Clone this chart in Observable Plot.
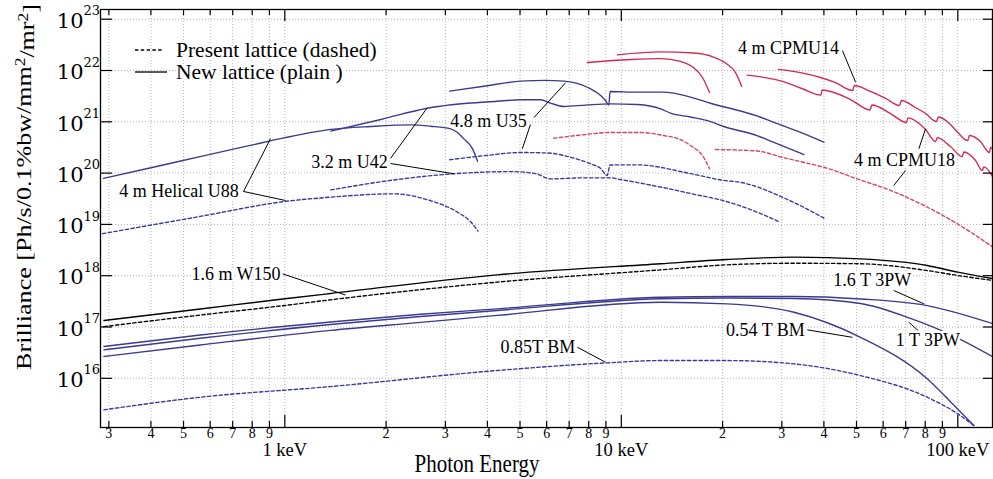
<!DOCTYPE html>
<html><head><meta charset="utf-8">
<script src="https://cdn.jsdelivr.net/npm/d3@7"></script>
<script src="https://cdn.jsdelivr.net/npm/@observablehq/plot@0.6"></script>
<style>
html,body{margin:0;padding:0;background:#fff;overflow:hidden;}
#chart{position:relative;width:993px;height:479px;}
</style></head><body><div id="chart"></div>
<script>
// ---------------- axes ----------------
const xDomain = [0.2833, 126.8];
const yDomain = [1.099e15, 1.546e23];
const xMinorTicks = [0.3,0.4,0.5,0.6,0.7,0.8,0.9,2,3,4,5,6,7,8,9,20,30,40,50,60,70,80,90];
const xMinorLabels = ["3","4","5","6","7","8","9","2","3","4","5","6","7","8","9","2","3","4","5","6","7","8","9"];
const xMajorTicks = [1,10,100];
const xMajorLabels = ["1 keV","10 keV","100 keV"];
const yDecades = [1e16,1e17,1e18,1e19,1e20,1e21,1e22,1e23];
const yBase = "10";
const yExponents = ["16","17","18","19","20","21","22","23"];
const xTitle = "Photon Energy";
const legendLabels = ["Present lattice (dashed)", "New lattice (plain )"];

// ---------------- series (photon energy keV, brilliance) ----------------
const u88NewE = [0.289,0.40,0.56,0.79,1.0,1.37,1.8,2.36,2.71,3.11,3.26,3.40,3.61,3.74];
const u88NewB = [7.9e19,1.27e20,2.1e20,3.47e20,4.9e20,7.1e20,8.1e20,8.7e20,8.2e20,7.3e20,6.2e20,4.7e20,3.0e20,1.7e20];
const u88OldE = [0.287,0.56,1.0,1.37,2.1,2.71,3.26,3.56,3.75];
const u88OldB = [6.6e18,1.43e19,2.8e19,3.4e19,3.95e19,2.9e19,1.73e19,1.14e19,7.4e18];

const u42NewE = [1.37,1.93,2.65,4.28,5.02,5.75,6.16,6.75,7.83,9.29,11.15,13.09,14.0,16.06,18.41,20.16,25.3,27.8,34.9];
const u42NewB = [6.6e20,1.11e21,1.84e21,2.52e21,2.69e21,2.69e21,2.32e21,1.99e21,2.12e21,2.24e21,2.17e21,1.79e21,1.47e21,1.24e21,1.01e21,8.1e20,5.4e20,4.2e20,2.3e20];
const u42OldE = [1.37,2.06,3.17,4.69,5.56,6.16,7.72,9.29,9.95,13.35,16.06,20.1,24.2,29.7];
const u42OldB = [4.7e19,7.2e19,9.7e19,1.07e20,9.8e19,7.7e19,8.1e19,8.1e19,7.5e19,5.2e19,4.0e19,2.9e19,1.95e19,1.10e19];

const u35NewE = [3.09,3.95,5.02,5.95,6.75,7.92,8.68,8.98,9.18,9.26,11.15,13.38,15.0,18.41,25.3,27.8,34.1,40.0];
const u35NewB = [3.95e21,4.99e21,6.2e21,6.4e21,6.2e21,4.72e21,3.26e21,2.6e21,2.12e21,3.9e21,3.78e21,3.78e21,3.4e21,2.3e21,1.30e21,1.03e21,6.2e20,4.0e20];
const u35OldE = [3.09,3.95,5.02,6.03,7.06,8.10,8.68,9.08,9.26,11.15,16.06,20.16,22.6,30.4,40.0];
const u35OldB = [1.82e20,2.2e20,2.52e20,2.47e20,2.04e20,1.52e20,1.23e20,9.0e19,1.44e20,1.45e20,9.8e19,7.2e19,6.6e19,3.3e19,1.33e19];

const cpmu18LowE = [7.92,10.65,13.09,15.0,16.39,17.43,18.29];
const cpmu18LowB = [1.43e22,1.64e22,1.71e22,1.50e22,1.14e22,7.3e21,3.72e21];
const cpmu14LowE = [9.74,13.09,16.39,18.79,20.4,21.85,22.8];
const cpmu14LowB = [2.02e22,2.30e22,2.19e22,1.83e22,1.40e22,9.1e21,4.9e21];
const cpmu18HighE = [23.66,29.99,34.4,39.2,39.5,48.0,54.8,55.6,63.1,70.4,71.1,80.2,85.9,86.9,95.1,103.1,104.2,112.9,118.2,119.5,127.7];
const cpmu18HighB = [8.1e21,6.2e21,4.46e21,3.33e21,4.17e21,2.72e21,1.70e21,2.13e21,1.45e21,9.7e20,1.19e21,7.1e20,4.13e20,4.9e20,3.3e20,2.1e20,2.58e20,1.76e20,1.12e20,1.32e20,7.9e19];
const cpmu14HighE = [29.3,34.1,39.1,43.3,48.7,49.3,55.0,61.0,67.1,68.0,74.8,80.2,86.4,87.6,95.1,100,106.9,108.3,116.8,124.2,125.1,127.7];
const cpmu14HighB = [1.05e22,9.1e21,7.3e21,5.8e21,4.07e21,5.1e21,3.9e21,2.85e21,2.08e21,2.6e21,1.90e21,1.45e21,1.01e21,1.24e21,8.9e20,6.2e20,4.3e20,5.4e20,4.13e20,2.52e20,3.15e20,2.88e20];
const cpmuOldLowE = [6.29,7.56,9.29,11.33,13.35,15.0,16.06,17.55,18.29];
const cpmuOldLowB = [4.79e20,5.5e20,6.2e20,6.2e20,5.4e20,4.5e20,3.45e20,2.04e20,1.21e20];
const cpmuOldHighE = [19.05,25.3,30.0,35.7,40.0,50.2,63.1,79.3,99.6,127.7];
const cpmuOldHighB = [2.88e20,2.7e20,2.04e20,1.56e20,1.30e20,7.7e19,4.6e19,2.34e19,1.03e19,3.55e18];

const w150E = [0.29,0.561,1.0,1.367,4.28,13.09,20.6,32.6,51.4,81.1,100,127.7];
const w150NewB = [1.34e17,2.24e17,3.55e17,4.5e17,1.04e18,1.71e18,2.07e18,2.30e18,2.13e18,1.58e18,1.17e18,8.7e17];
const w150OldB = [1.02e17,1.71e17,2.63e17,3.39e17,7.5e17,1.30e18,1.63e18,1.75e18,1.71e18,1.26e18,1.01e18,8.05e17];

const pw16E = [0.29,0.561,1.367,2.53,4.28,13.09,20.6,32.6,51.4,81.1,127.7];
const pw16B = [4.17e16,6.99e16,1.25e17,1.77e17,2.26e17,3.81e17,3.93e17,3.93e17,3.52e17,2.62e17,1.15e17];
const pw1E = [0.29,0.561,1.367,2.53,4.28,13.09,20.6,32.6,51.4,72.3,95.1,127.7];
const pw1B = [3.59e16,6.03e16,1.12e17,1.60e17,2.10e17,3.55e17,3.68e17,3.6e17,2.87e17,1.47e17,7.1e16,2.58e16];
const bm054E = [0.29,0.561,1.367,2.53,4.28,13.09,20.6,32.6,51.4,81.1,95.1,111.6];
const bm054B = [2.66e16,4.46e16,8.6e16,1.23e17,1.68e17,3.04e17,2.83e17,1.94e17,6.3e16,9.8e15,3.5e15,1.20e15];
const bm085E = [0.29,0.561,1.367,4.28,9.08,13.09,20.6,32.6,51.4,81.1,100,111.6];
const bm085B = [2.43e15,4.28e15,6.9e15,1.42e16,2.0e16,2.22e16,2.22e16,1.91e16,1.13e16,4.28e15,2.03e15,1.20e15];

// ---------------- annotations ----------------
const labelText = ["4 m Helical U88","3.2 m U42","4.8 m U35","4 m CPMU14","4 m CPMU18","1.6 m W150","1.6 T 3PW","1 T 3PW","0.54 T BM","0.85T BM"];
const labelE = [0.485,1.557,4.03,31.4,69.4,0.716,55.7,81.5,26.8,5.65];
const labelB = [4.38e19,1.61e20,1.01e21,2.72e22,1.76e20,1.09e18,8.3e17,5.45e16,8.8e16,4.04e16];
const leaderE1 = [0.754,0.754,2.061,2.061,5.50,5.37,45.4,76.6,69.9,0.984,64.5,71.5,35.7,7.40];
const leaderB1 = [4.38e19,4.38e19,1.93e20,1.54e20,1.21e21,8.85e20,2.45e22,2.98e20,1.12e20,1.09e18,5.15e17,1.24e17,8.8e16,4.04e16];
const leaderE2 = [0.907,1.005,2.65,3.178,6.83,5.08,49.7,80.2,64.5,1.515,79.3,76.6,48.6,8.97];
const leaderB2 = [4.72e20,2.92e19,1.87e21,9.7e19,5.76e21,2.98e20,5.9e21,7.3e20,5.73e19,4.2e17,2.83e17,8.3e16,6.3e16,2.06e16];

// ---------------- build tables ----------------
const series = [
  {id:"u88n", fam:"blue", lat:"new", E:u88NewE, B:u88NewB},
  {id:"u88o", fam:"blue", lat:"old", E:u88OldE, B:u88OldB},
  {id:"u42n", fam:"blue", lat:"new", E:u42NewE, B:u42NewB},
  {id:"u42o", fam:"blue", lat:"old", E:u42OldE, B:u42OldB},
  {id:"u35n", fam:"blue", lat:"new", E:u35NewE, B:u35NewB},
  {id:"u35o", fam:"blue", lat:"old", E:u35OldE, B:u35OldB},
  {id:"c18l", fam:"red", lat:"new", E:cpmu18LowE, B:cpmu18LowB},
  {id:"c14l", fam:"red", lat:"new", E:cpmu14LowE, B:cpmu14LowB},
  {id:"c18h", fam:"red", lat:"new", E:cpmu18HighE, B:cpmu18HighB},
  {id:"c14h", fam:"red", lat:"new", E:cpmu14HighE, B:cpmu14HighB},
  {id:"col", fam:"red", lat:"old", E:cpmuOldLowE, B:cpmuOldLowB},
  {id:"coh", fam:"red", lat:"old", E:cpmuOldHighE, B:cpmuOldHighB},
  {id:"w150n", fam:"black", lat:"new", E:w150E, B:w150NewB},
  {id:"w150o", fam:"black", lat:"old", E:w150E, B:w150OldB},
  {id:"pw16", fam:"blue", lat:"new", E:pw16E, B:pw16B},
  {id:"pw1", fam:"blue", lat:"new", E:pw1E, B:pw1B},
  {id:"bm054", fam:"blue", lat:"new", E:bm054E, B:bm054B},
  {id:"bm085", fam:"blue", lat:"old", E:bm085E, B:bm085B}
];
const rows = series.flatMap(s => s.E.map((e, i) => ({id:s.id, fam:s.fam, lat:s.lat, E:e, B:s.B[i]})));
const colors = {blue:"#3b3a8f", blueDash:"#3636a6", red:"#d2294d", redDash:"#d8405f", black:"#000"};
const dash = "3.4,2.4";

const labels = labelText.map((t, i) => ({t, E:labelE[i], B:labelB[i]}));
const leaders = leaderE1.map((e, i) => ({x1:e, y1:leaderB1[i], x2:leaderE2[i], y2:leaderB2[i]}));
const xMinor = xMinorTicks.map((v, i) => ({v, t:xMinorLabels[i]}));
const xMajor = xMajorTicks.map((v, i) => ({v, t:xMajorLabels[i]}));
const yRows = yDecades.map((v, i) => ({v, base:yBase, exp:yExponents[i]}));
const xGrid = [...xMinorTicks, ...xMajorTicks];

const W = 993, H = 479, mL = 100, mR = 1, mT = 9, mB = 52;
const pw = W - mL - mR, ph = H - mT - mB;
const sel = (fam, lat) => rows.filter(d => d.fam === fam && d.lat === lat);
const lineOpts = (stroke, dashed) => ({x:"E", y:"B", z:"id", stroke, strokeWidth:1.35, clip:true,
  curve:"monotone-x", strokeDasharray: dashed ? dash : null});

const plot = Plot.plot({
  width: W, height: H,
  marginLeft: mL, marginRight: mR, marginTop: mT, marginBottom: mB,
  x: {type:"log", domain:xDomain, axis:null},
  y: {type:"log", domain:yDomain, axis:null},
  style: {fontFamily:"Liberation Serif", background:"white", color:"black"},
  marks: [
    Plot.ruleX(xGrid, {x:d=>d, stroke:"#b4b4b4", strokeWidth:1, strokeDasharray:"1,2"}),
    Plot.ruleY(yDecades, {y:d=>d, stroke:"#b4b4b4", strokeWidth:1, strokeDasharray:"1,2"}),
    Plot.line(sel("blue","old"), lineOpts(colors.blueDash, true)),
    Plot.line(sel("red","old"), lineOpts(colors.redDash, true)),
    Plot.line(sel("black","old"), lineOpts(colors.black, true)),
    Plot.line(sel("blue","new"), lineOpts(colors.blue, false)),
    Plot.line(sel("red","new"), lineOpts(colors.red, false)),
    Plot.line(sel("black","new"), lineOpts(colors.black, false)),
    Plot.link(leaders, {x1:"x1", y1:"y1", x2:"x2", y2:"y2", stroke:"black", strokeWidth:1}),
    Plot.text(labels, {x:"E", y:"B", text:"t", fontSize:18, fill:"black", stroke:"white", strokeWidth:5, paintOrder:"stroke"}),
    Plot.frame({stroke:"black", strokeWidth:1.3}),
    Plot.tickX(xMinorTicks, {x:d=>d, insetTop:ph-6, stroke:"black", strokeWidth:1.2}),
    Plot.tickX(xMajorTicks, {x:d=>d, insetTop:ph-12, stroke:"black", strokeWidth:1.2}),
    Plot.tickX(xMinorTicks, {x:d=>d, insetBottom:ph-6, stroke:"black", strokeWidth:1.2}),
    Plot.tickX(xMajorTicks, {x:d=>d, insetBottom:ph-12, stroke:"black", strokeWidth:1.2}),
    Plot.tickY(yDecades, {y:d=>d, insetRight:pw-12, stroke:"black", strokeWidth:1.2}),
    Plot.tickY(yDecades, {y:d=>d, insetLeft:pw-9, stroke:"black", strokeWidth:1.2}),
    Plot.text(xMinor, {x:"v", text:"t", frameAnchor:"bottom", dy:10, fontSize:14, fill:"black"}),
    Plot.text(xMajor, {x:"v", text:"t", frameAnchor:"bottom", dy:28, fontSize:18.5, fill:"black", ariaLabel:"xmajor"}),
    Plot.text(yRows, {y:"v", text:"base", frameAnchor:"left", dx:-17, dy:2, textAnchor:"end", fontSize:21, fontFamily:"DejaVu Serif", fill:"black"}),
    Plot.text(yRows, {y:"v", text:"exp", frameAnchor:"left", dx:-17, dy:-8, textAnchor:"start", fontSize:13, fontFamily:"DejaVu Serif", fill:"black"})
  ]
});

const svg = d3.select(plot);
// slight vertical stretch of decade labels
svg.selectAll('g[aria-label="xmajor"] text').each(function() {
  const t = this.getAttribute("transform");
  if (t) this.setAttribute("transform", t + " scale(1,1.15)");
});

// axis titles
svg.append("text")
  .attr("transform", "translate(477,472) scale(1,1.22)")
  .attr("text-anchor", "middle").attr("font-size", 21).attr("font-family", "Liberation Serif")
  .attr("fill", "black").text(xTitle);

const yt = svg.append("text")
  .attr("transform", "translate(31,187) rotate(-90) scale(1.24,1)")
  .attr("text-anchor", "middle").attr("font-size", 21).attr("font-family", "Liberation Serif")
  .attr("fill", "black");
yt.append("tspan").text("Brilliance [Ph/s/0.1%bw/mm");
yt.append("tspan").attr("dy", "-0.45em").attr("font-size", 14).text("2");
yt.append("tspan").attr("dy", "0.45em").text("/mr");
yt.append("tspan").attr("dy", "-0.45em").attr("font-size", 14).text("2");
yt.append("tspan").attr("dy", "0.45em").text("]");

// legend
const lg = svg.append("g").attr("font-family", "Liberation Serif").attr("font-size", 21.5).attr("text-anchor", "start");
lg.append("text").attr("x", 176).attr("y", 50).attr("dy", "0.32em").attr("fill", "black").attr("text-anchor", "start")
  .attr("stroke", "white").attr("stroke-width", 4).attr("paint-order", "stroke").text(legendLabels[0]);
lg.append("text").attr("x", 176).attr("y", 72).attr("dy", "0.32em").attr("fill", "black").attr("text-anchor", "start")
  .attr("stroke", "white").attr("stroke-width", 4).attr("paint-order", "stroke").text(legendLabels[1]);
lg.append("line").attr("x1", 135).attr("x2", 164).attr("y1", 50).attr("y2", 50)
  .attr("stroke", "black").attr("stroke-width", 1.3).attr("stroke-dasharray", dash);
lg.append("line").attr("x1", 135).attr("x2", 167).attr("y1", 72).attr("y2", 72)
  .attr("stroke", "black").attr("stroke-width", 1.3);

document.getElementById("chart").appendChild(plot);
</script></body></html>
